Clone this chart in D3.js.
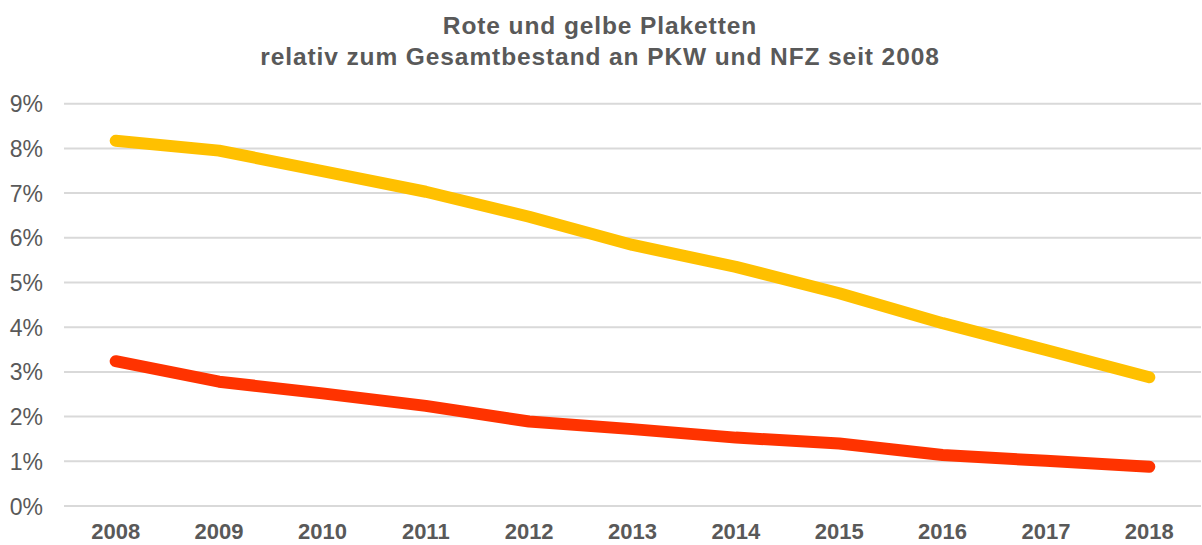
<!DOCTYPE html>
<html><head><meta charset="utf-8">
<script src="https://cdn.jsdelivr.net/npm/d3@7"></script>
<style>body{margin:0;background:#fff}svg{display:block;font-family:"Liberation Sans",Arial,sans-serif}</style>
</head><body><svg id="c" width="1202" height="545"></svg>
<script>
const years = ["2008","2009","2010","2011","2012","2013","2014","2015","2016","2017","2018"];
const gelb = [8.17,7.95,7.49,7.03,6.47,5.84,5.35,4.76,4.09,3.49,2.88];
const rot  = [3.24,2.78,2.52,2.24,1.89,1.72,1.53,1.40,1.14,1.01,0.88];
const yTicks = [0,1,2,3,4,5,6,7,8,9];
const titleLines = ["Rote und gelbe Plaketten","relativ zum Gesamtbestand an PKW und NFZ seit 2008"];

const svg = d3.select("#c");
const x = d3.scalePoint().domain(years).range([64,1201]).padding(0.5);
const y = d3.scaleLinear().domain([0,9]).range([506,103.7]);

svg.append("g").selectAll("line").data(yTicks).join("line")
  .attr("x1",64).attr("x2",1201).attr("y1",d=>y(d)).attr("y2",d=>y(d))
  .attr("stroke","#d9d9d9").attr("stroke-width",2);

svg.append("g").selectAll("text").data(yTicks).join("text")
  .attr("x",43).attr("y",d=>y(d)+8.5).attr("text-anchor","end")
  .attr("font-size",23).attr("fill","#595959").text(d=>d+"%");

svg.append("g").selectAll("text").data(years).join("text")
  .attr("x",d=>x(d)).attr("y",539).attr("text-anchor","middle")
  .attr("font-size",22).attr("font-weight","bold").attr("fill","#595959").text(d=>d);

svg.append("g").selectAll("text").data(titleLines).join("text")
  .attr("x",600).attr("y",(d,i)=>34+i*31).attr("text-anchor","middle")
  .attr("font-size",24.5).attr("letter-spacing",0.9).attr("font-weight","bold").attr("fill","#595959").text(d=>d);

const line = d3.line().x((d,i)=>x(years[i])).y(d=>y(d));
[[gelb,"#FFC000"],[rot,"#FF3300"]].forEach(([s,c])=>{
  svg.append("path").datum(s).attr("d",line).attr("fill","none")
    .attr("stroke",c).attr("stroke-width",12).attr("stroke-linecap","round").attr("stroke-linejoin","round");
});
</script></body></html>
